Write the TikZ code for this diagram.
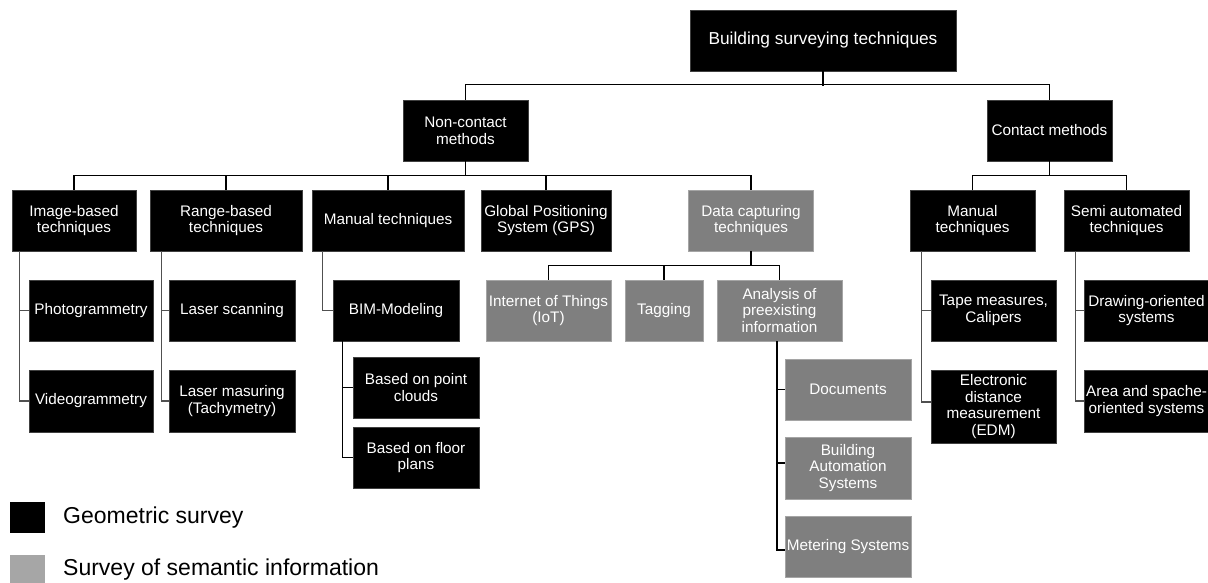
\documentclass[tikz,border=0pt]{standalone}
\usepackage{fontspec}
\setmainfont{Liberation Sans}
\definecolor{boxgray}{HTML}{7F7F7F}
\definecolor{boxgrayedge}{HTML}{A5A5A5}
\definecolor{legendgray}{HTML}{A6A6A6}
\definecolor{sideline}{HTML}{505050}
\newcommand{\nodefont}{\fontsize{15.3}{16.8}\selectfont}
\newcommand{\rootfont}{\fontsize{17.3}{19}\selectfont}
\newcommand{\legfont}{\fontsize{23}{26}\selectfont}
\tikzset{
  blk/.style={fill=black, draw=black!75, line width=0.6pt, text=white, align=center,
              inner sep=0pt, font=\nodefont, minimum height=61pt, minimum width=125pt},
  gry/.style={blk, fill=boxgray, draw=boxgrayedge},
  bus/.style={draw=black, line width=1.2pt},
  side/.style={draw=sideline, line width=1.3pt},
}
\begin{document}
\begin{tikzpicture}[x=1pt, y=-1pt]
\useasboundingbox (0,0) rectangle (1208,583);

% level 0 and 1
\node[blk, minimum width=266pt, font=\rootfont] (root) at (823,40.5) {Building surveying techniques};
\node[blk] (noncontact) at (465.5,130.5) {Non-contact\\methods};
\node[blk] (contact) at (1049.5,130.5) {Contact methods};

% level 2
\node[blk, minimum width=124pt] (imgbased) at (74,220.5) {Image-based\\techniques};
\node[blk, minimum width=152pt] (rangebased) at (226,220.5) {Range-based\\techniques};
\node[blk, minimum width=152pt] (manualnc) at (388,220.5) {Manual techniques};
\node[blk, minimum width=130pt] (gps) at (546,220.5) {Global Positioning\\System (GPS)};
\node[gry] (datacap) at (751,220.5) {Data capturing\\techniques};
\node[blk] (manualc) at (972.5,220.5) {Manual\\techniques};
\node[blk] (semi) at (1126.5,220.5) {Semi automated\\techniques};

% level 3
\node[blk, minimum width=124pt] (photo) at (91,310.5) {Photogrammetry};
\node[blk, minimum width=124pt, minimum height=62pt] (video) at (91,401) {Videogrammetry};
\node[blk, minimum width=126pt] (laserscan) at (232,310.5) {Laser scanning};
\node[blk, minimum width=126pt, minimum height=62pt] (lasermeas) at (232,401) {Laser masuring\\(Tachymetry)};
\node[blk, minimum width=126pt] (bim) at (396,310.5) {BIM-Modeling};
\node[blk, minimum width=126pt] (pointclouds) at (416,387.5) {Based on point\\clouds};
\node[blk, minimum width=126pt] (floorplans) at (416,457.5) {Based on floor\\plans};
\node[gry] (iot) at (548.5,310.5) {Internet of Things\\(IoT)};
\node[gry, minimum width=78pt] (tagging) at (664,310.5) {Tagging};
\node[gry] (analysis) at (779.5,310.5) {Analysis of\\preexisting\\information};
\node[gry, minimum width=126pt] (documents) at (848,389.5) {Documents};
\node[gry, minimum width=126pt, minimum height=62pt] (bas) at (848,468) {Building\\Automation\\Systems};
\node[gry, minimum width=126pt] (metering) at (848,546.5) {Metering Systems};
\node[blk] (tape) at (993.5,310.5) {Tape measures,\\Calipers};
\node[blk, minimum height=73pt] (edm) at (993.5,406.5) {Electronic\\distance\\measurement\\(EDM)};
\node[blk] (drawing) at (1146.5,310.5) {Drawing-oriented\\systems};
\node[blk, minimum height=62pt] (area) at (1146.5,401) {Area and spache-\\oriented systems};

% buses
\draw[bus] (root.south) -- ++(0,14.5);
\draw[bus] (noncontact.north) -- ++(0,-15) -| (contact.north);
\draw[bus] (noncontact.south) -- ++(0,15);
\draw[bus] (imgbased.north) -- ++(0,-14) -| (datacap.north);
\draw[bus] (rangebased.north) -- ++(0,-14);
\draw[bus] (manualnc.north) -- ++(0,-14);
\draw[bus] (gps.north) -- ++(0,-14);
\draw[bus] (contact.south) -- ++(0,15);
\draw[bus] (manualc.north) -- ++(0,-14) -| (semi.north);
\draw[bus] (datacap.south) -- ++(0,15);
\draw[bus] (iot.north) -- ++(0,-14) -| (analysis.north);
\draw[bus] (tagging.north) -- ++(0,-14);

% side connectors
\draw[side] ([xshift=8pt]imgbased.south west) |- (photo.west);
\draw[side] ([xshift=8pt]imgbased.south west) |- (video.west);
\draw[side] ([xshift=12pt]rangebased.south west) |- (laserscan.west);
\draw[side] ([xshift=12pt]rangebased.south west) |- (lasermeas.west);
\draw[side] ([xshift=11pt]manualnc.south west) |- (bim.west);
\draw[bus] ([xshift=10pt]bim.south west) |- (pointclouds.west);
\draw[bus] ([xshift=10pt]bim.south west) |- (floorplans.west);
\draw[bus] ([xshift=-2.5pt]analysis.south) |- (documents.west);
\draw[bus] ([xshift=-2.5pt]analysis.south) |- ([yshift=5pt]bas.west);
\draw[bus] ([xshift=-2.5pt]analysis.south) |- ([yshift=-3.5pt]metering.west);
\draw[side] ([xshift=12pt]manualc.south west) |- (tape.west);
\draw[side] ([xshift=12pt]manualc.south west) |- ([yshift=4.5pt]edm.west);
\draw[side] ([xshift=12pt]semi.south west) |- (drawing.west);
\draw[side] ([xshift=12pt]semi.south west) |- (area.west);

% legend
\node[fill=black, minimum width=35pt, minimum height=31pt, inner sep=0pt] (legblack) at (27.5,517.5) {};
\node[fill=legendgray, minimum width=35pt, minimum height=31pt, inner sep=0pt] (leggray) at (27.5,570.5) {};
\node[anchor=west, font=\legfont, inner sep=0pt] (legtext1) at (63,518) {Geometric survey};
\node[anchor=west, font=\legfont, inner sep=0pt] (legtext2) at (63,570) {Survey of semantic information};
\end{tikzpicture}
\end{document}
